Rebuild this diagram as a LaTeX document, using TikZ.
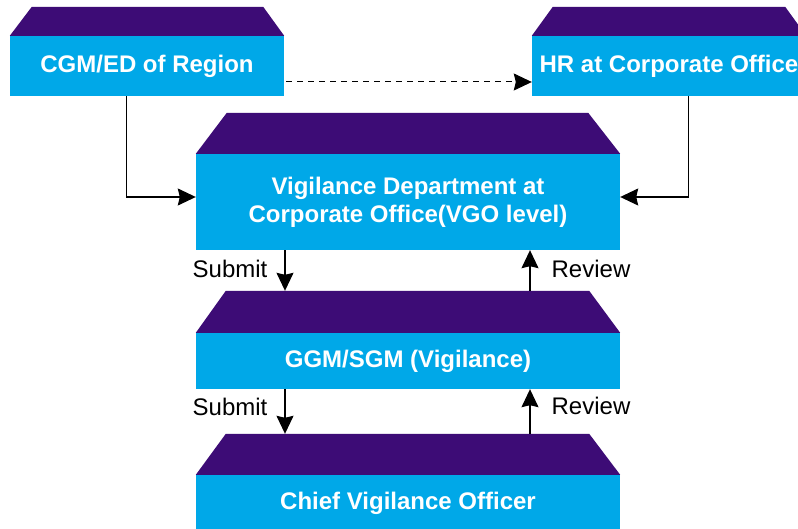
\documentclass[tikz,border=0pt]{standalone}
\usepackage{fontspec}
\setmainfont{Liberation Sans}
\usetikzlibrary{arrows.meta}
\definecolor{boxblue}{HTML}{00A8E8}
\definecolor{roofpurple}{HTML}{3D0C76}
\tikzset{
  box/.style={rectangle, fill=boxblue, inner sep=0pt, text=white, align=center,
    font=\fontsize{24}{28}\selectfont\bfseries},
  roof/.style={fill=roofpurple},
  arr/.style={draw=black, line width=1.1pt, -{Stealth[length=18pt,width=17pt,inset=2pt]}},
  lbl/.style={font=\fontsize{24}{28}\selectfont, text=black, inner sep=0pt},
}
\begin{document}
\begin{tikzpicture}[x=1pt,y=-1pt]
\clip (0,0) rectangle (798,529);
\fill[white] (0,0) rectangle (798,529);
% boxes
\node[box, minimum width=274, minimum height=60] (cgm) at (147,66) {CGM/ED of Region};
\node[box, minimum width=274, minimum height=60] (hr) at (669,66) {HR at Corporate Office};
\node[box, minimum width=424, minimum height=96] (vig) at (408,202) {Vigilance Department at\\Corporate Office(VGO level)};
\node[box, minimum width=424, minimum height=56] (ggm) at (408,361) {GGM/SGM (Vigilance)};
\node[box, minimum width=424, minimum height=56] (cvo) at (408,503) {Chief Vigilance Officer};
% roofs
\fill[roof] (cgm.north west) -- ([xshift=22,yshift=29]cgm.north west) -- ([xshift=-21,yshift=29]cgm.north east) -- (cgm.north east) -- cycle;
\fill[roof] (hr.north west) -- ([xshift=21,yshift=29]hr.north west) -- ([xshift=-21,yshift=29]hr.north east) -- (hr.north east) -- cycle;
\fill[roof] (vig.north west) -- ([xshift=31,yshift=41]vig.north west) -- ([xshift=-32,yshift=41]vig.north east) -- (vig.north east) -- cycle;
\fill[roof] (ggm.north west) -- ([xshift=30,yshift=42]ggm.north west) -- ([xshift=-31,yshift=42]ggm.north east) -- (ggm.north east) -- cycle;
\fill[roof] (cvo.north west) -- ([xshift=30,yshift=41]cvo.north west) -- ([xshift=-31,yshift=41]cvo.north east) -- (cvo.north east) -- cycle;
% connectors
\draw[arr] ([xshift=117]cgm.south west) |- ([yshift=5]vig.west);
\draw[arr] ([xshift=-118]hr.south east) |- ([yshift=5]vig.east);
\draw[arr, dash pattern=on 6pt off 5pt, line width=1pt] ([yshift=-16,xshift=2]cgm.east) -- ([yshift=-16]hr.west);
\draw[arr] ([xshift=-123]vig.south) -- ([xshift=-123,yshift=42]ggm.north);
\draw[arr] ([xshift=122,yshift=42]ggm.north) -- ([xshift=122]vig.south);
\draw[arr] ([xshift=-123]ggm.south) -- ([xshift=-123,yshift=41]cvo.north);
\draw[arr] ([xshift=122,yshift=41]cvo.north) -- ([xshift=122]ggm.south);
% labels
\node[lbl] (s1) at (230,269) {Submit};
\node[lbl] (r1) at (591,269) {Review};
\node[lbl] (s2) at (230,407) {Submit};
\node[lbl] (r2) at (591,406) {Review};
\end{tikzpicture}
\end{document}
